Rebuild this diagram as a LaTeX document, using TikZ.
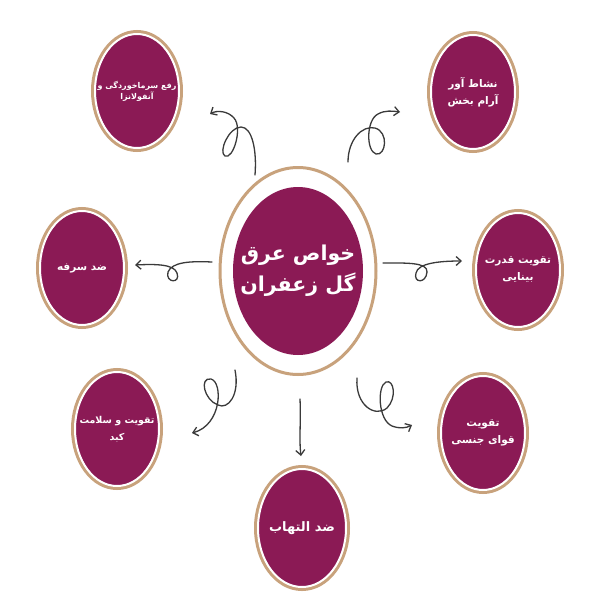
\documentclass[tikz,border=0pt]{standalone}
\usepackage{fontspec}
\newfontfamily\farsi[Script=Arabic]{DejaVu Sans}
\TeXXeTstate=1
\usetikzlibrary{shapes.geometric,arrows.meta}
\definecolor{berry}{HTML}{8B1A55}
\definecolor{ring}{HTML}{C8A27C}
\definecolor{ink}{HTML}{3A3A3A}
\tikzset{
  prop/.style={ellipse, minimum width=84pt, minimum height=114pt, inner sep=0pt,
    fill=berry, draw=white, line width=2pt, preaction={draw=ring, line width=8pt}},
  tag/.style={text=white, align=center, inner sep=0pt,
    font={\farsi\bfseries\fontsize{10.5}{17}\selectfont}},
  curl/.style={ink, line width=1.3pt, line cap=round, -{Straight Barb[length=5pt,width=9pt]}}
}

\begin{document}
\begin{tikzpicture}[x=1pt,y=-1pt]
\useasboundingbox[fill=white] (0,0) rectangle (600,600);
%\draw[help lines,step=50] (0,0) grid (600,600);
\node[ellipse, fill=berry, minimum width=130pt, minimum height=168pt, inner sep=0pt,
  label={[tag, font={\farsi\bfseries\fontsize{20.5}{31}\selectfont}]center:{\beginR خواص عرق\endR\\\beginR گل زعفران\endR}}]
  (hub) at (298,271) {};
\draw[ring, line width=3pt] (hub.center) ellipse [x radius=78pt, y radius=103.5pt];

\node[prop, label={[tag, font={\farsi\bfseries\fontsize{8}{11}\selectfont}]center:{\beginR رفع سرماخوردگی و\endR\\\beginR آنفولانزا\endR}}] (cold) at (137,91) {};
\node[prop, label={[tag]center:{\beginR نشاط آور\endR\\\beginR آرام بخش\endR}}] (calm) at (473,92) {};
\node[prop, label={[tag]center:{\beginR ضد سرفه\endR}}] (cough) at (82,268) {};
\node[prop, label={[tag]center:{\beginR تقویت قدرت\endR\\\beginR بینایی\endR}}] (eyes) at (518,270) {};
\node[prop, label={[tag, font={\farsi\bfseries\fontsize{9.5}{17}\selectfont}]center:{\beginR تقویت و سلامت\endR\\\beginR کبد\endR}}] (liver) at (117,429) {};
\node[prop, label={[tag]center:{\beginR تقویت\endR\\\beginR قوای جنسی\endR}}] (libido) at (483,433) {};
\node[prop, minimum width=88pt, minimum height=118pt,
  label={[tag, font={\farsi\bfseries\fontsize{13}{17}\selectfont}]center:{\beginR ضد التهاب\endR}}] (anti) at (302,528) {};

% free ends of the curly arrows
\coordinate (coldS) at (255,175);   \coordinate (coldE) at (210,114);
\coordinate (calmS) at (348,162);   \coordinate (calmE) at (400,112);
\coordinate (coughS) at (212,262);  \coordinate (coughE) at (135,265);
\coordinate (eyesS) at (383,263);   \coordinate (eyesE) at (462,261);
\coordinate (liverS) at (235,370);  \coordinate (liverE) at (192,433);
\coordinate (libidoS) at (357,378); \coordinate (libidoE) at (412,425);
\coordinate (antiS) at (300,399);   \coordinate (antiE) at (301,456);

\draw[curl] (coldS) .. controls (257,150) and (252,127) .. (241,127)
  .. controls (229,127) and (218,152) .. (225,156)
  .. controls (233,160) and (243,128) .. (234,118)
  .. controls (228,111) and (217,110) .. (coldE);
\draw[curl] (calmS) .. controls (348,140) and (362,125) .. (375,128)
  .. controls (389,132) and (386,156) .. (376,154)
  .. controls (366,151) and (366,120) .. (378,114)
  .. controls (385,110) and (393,111) .. (calmE);
\draw[curl] (coughS) .. controls (190,261) and (172,262) .. (168,272)
  .. controls (165,283) and (181,284) .. (177,273)
  .. controls (174,264) and (155,264) .. (coughE);
\draw[curl] (eyesS) .. controls (405,263) and (428,262) .. (427,272)
  .. controls (426,284) and (413,283) .. (416,273)
  .. controls (418,263) and (440,261) .. (eyesE);
\draw[curl] (liverS) .. controls (240,395) and (228,410) .. (218,405)
  .. controls (204,400) and (199,377) .. (211,379)
  .. controls (223,382) and (222,425) .. (liverE);
\draw[curl] (libidoS) .. controls (355,405) and (375,418) .. (387,408)
  .. controls (397,398) and (394,379) .. (386,382)
  .. controls (377,386) and (378,420) .. (392,426)
  .. controls (400,429) and (406,428) .. (libidoE);
\draw[curl] (antiS) .. controls (301,420) and (299,440) .. (antiE);
\end{tikzpicture}
\end{document}
